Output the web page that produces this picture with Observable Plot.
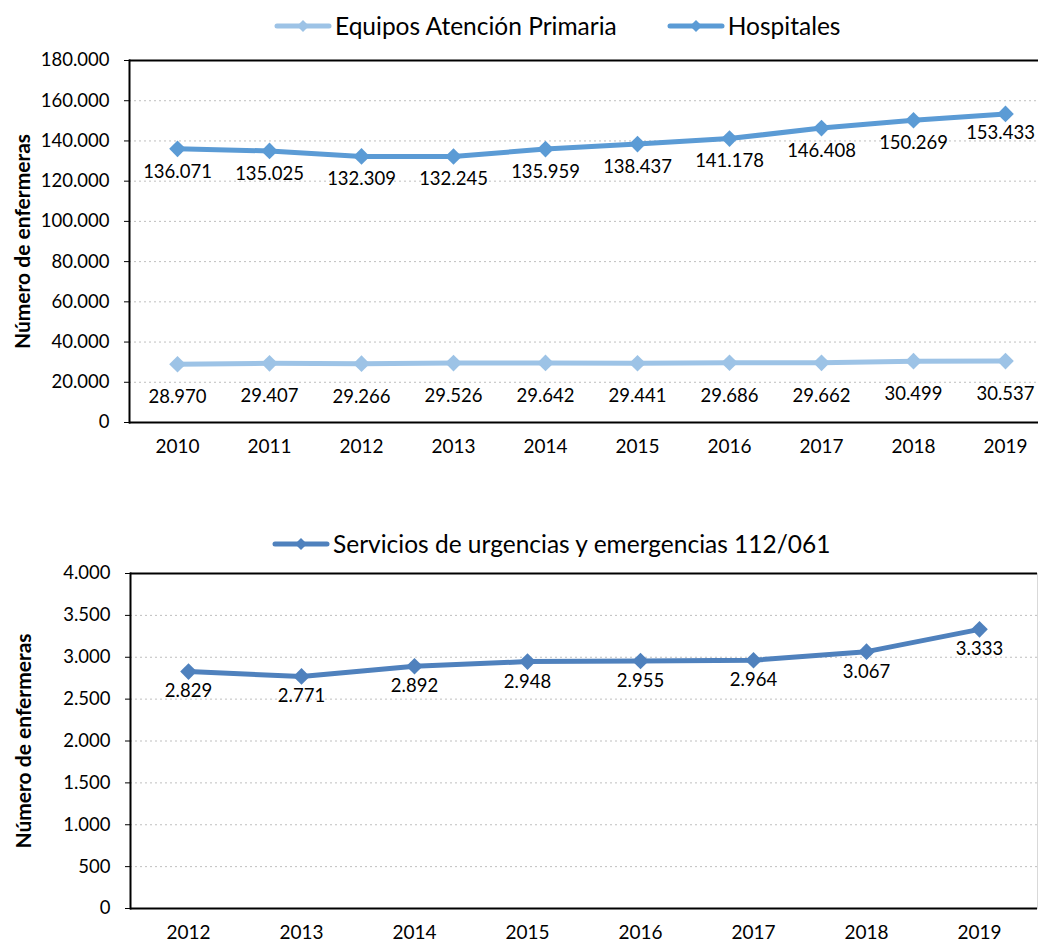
<!DOCTYPE html>
<html><head><meta charset="utf-8">
<script src="https://cdn.jsdelivr.net/npm/d3@7"></script>
<script src="https://cdn.jsdelivr.net/npm/@observablehq/plot@0.6"></script>
<style>
body{margin:0;background:#fff;font-family:Lato,sans-serif;}
#wrap{position:relative;width:1038px;height:943px;overflow:hidden;background:#fff;}
.legend{position:absolute;display:flex;align-items:center;font-size:24.5px;color:#000;white-space:nowrap;}
.legend .item{display:flex;align-items:center;}
.legend svg{display:block;margin-right:3px;}
#c1{position:absolute;left:0;top:45px;}
#c2{position:absolute;left:0;top:560px;}
</style></head>
<body><div id="wrap">
<div class="legend" id="leg1" style="left:274px;top:11px;"></div>
<div id="c1"></div>
<div class="legend" id="leg2" style="left:272px;top:529px;"></div>
<div id="c2"></div>
</div>
<script>
// ---- data ----
const years1 = ["2010","2011","2012","2013","2014","2015","2016","2017","2018","2019"];
const primaria = [28970, 29407, 29266, 29526, 29642, 29441, 29686, 29662, 30499, 30537];
const hospitales = [136071, 135025, 132309, 132245, 135959, 138437, 141178, 146408, 150269, 153433];
const years2 = ["2012","2013","2014","2015","2016","2017","2018","2019"];
const urgencias = [2829, 2771, 2892, 2948, 2955, 2964, 3067, 3333];
const series1 = ["Equipos Atención Primaria", "Hospitales"];
const series2 = ["Servicios de urgencias y emergencias 112/061"];
const yTicks1 = [0, 20000, 40000, 60000, 80000, 100000, 120000, 140000, 160000, 180000];
const yTicks2 = [0, 500, 1000, 1500, 2000, 2500, 3000, 3500, 4000];
const yTitle = "Número de enfermeras";

const colors1 = ["#9DC3E6", "#5B9BD5"];
const colors2 = ["#4F81BD"];

const fmt = d3.formatLocale({decimal:",", thousands:".", grouping:[3], currency:["","€"]}).format(",d");

function swatch(color){
  return `<svg width="58" height="14"><line x1="3" y1="7" x2="55" y2="7" stroke="${color}" stroke-width="5" stroke-linecap="round"/><path d="M29,1 L35,7 L29,13 L23,7 Z" fill="${color}"/></svg>`;
}
document.getElementById("leg1").innerHTML =
  `<div class="item">${swatch(colors1[0])}<span>${series1[0]}</span></div>` +
  `<div class="item" style="margin-left:50px">${swatch(colors1[1])}<span>${series1[1]}</span></div>`;
document.getElementById("leg2").innerHTML =
  `<div class="item">${swatch(colors2[0])}<span>${series2[0]}</span></div>`;

const rows1 = years1.flatMap((y, i) => [
  {year: y, value: primaria[i], serie: series1[0]},
  {year: y, value: hospitales[i], serie: series1[1]}
]);
const rows2 = years2.map((y, i) => ({year: y, value: urgencias[i], serie: series2[0]}));

const common = (ticks, max) => [
  Plot.gridY(ticks.filter(t => t > 0 && t < max), {stroke:"#bfbfbf", strokeOpacity:1, strokeDasharray:"2,3"}),
  Plot.axisY({ticks, tickFormat: fmt, tickSize:5, tickPadding:15, fontSize:18.5, label:null}),
  Plot.axisX({tickSize:0, tickPadding:17, fontSize:19, label:null}),
  Plot.ruleY([0, max], {stroke:"#000", strokeWidth:2}),
  Plot.frame({anchor:"left", stroke:"#000", strokeWidth:2}),
  Plot.text([yTitle], {frameAnchor:"left", dx:-106, rotate:-90, textAnchor:"middle", fontWeight:"bold", fontSize:21, fill:"#000"})
];

const hosp = rows1.filter(d => d.serie === series1[1]);
const prim = rows1.filter(d => d.serie === series1[0]);
const lastYear = years1[years1.length - 1];

const p1 = Plot.plot({
  width:1038, height:425, marginTop:15, marginBottom:48, marginLeft:129, marginRight:0,
  style:{fontFamily:"Lato, sans-serif", fontSize:"18px", color:"#000", background:"#fff"},
  x:{type:"point", domain:years1, range:[129, 1052]},
  y:{domain:[0, 180000]},
  color:{domain:series1, range:colors1},
  marks:[
    ...common(yTicks1, 180000),
    Plot.line(rows1, {x:"year", y:"value", z:"serie", stroke:"serie", strokeWidth:5}),
    Plot.dot(rows1, {x:"year", y:"value", fill:"serie", symbol:"diamond2", r:7.5, stroke:null}),
    Plot.text(hosp.filter(d => d.year !== lastYear), {x:"year", y:"value", text: d => fmt(d.value), dy:23, fontSize:18.5, fill:"#000"}),
    Plot.text(hosp.filter(d => d.year === lastYear), {x:"year", y:"value", text: d => fmt(d.value), dy:19, dx:-5, fontSize:18.5, fill:"#000"}),
    Plot.text(prim, {x:"year", y:"value", text: d => fmt(d.value), dy:33, fontSize:18.5, fill:"#000"})
  ]
});
document.getElementById("c1").appendChild(p1);

const p2 = Plot.plot({
  width:1038, height:383, marginTop:13, marginBottom:35, marginLeft:130, marginRight:1,
  style:{fontFamily:"Lato, sans-serif", fontSize:"18px", color:"#000", background:"#fff"},
  x:{type:"point", domain:years2, padding:0.5},
  y:{domain:[0, 4000]},
  color:{domain:series2, range:colors2},
  marks:[
    ...common(yTicks2, 4000),
    Plot.frame({anchor:"right", stroke:"#d9d9d9", strokeWidth:1}),
    Plot.line(rows2, {x:"year", y:"value", stroke:"serie", strokeWidth:5}),
    Plot.dot(rows2, {x:"year", y:"value", fill:"serie", symbol:"diamond2", r:7.5, stroke:null}),
    Plot.text(rows2, {x:"year", y:"value", text: d => fmt(d.value), dy:20, fontSize:18.5, fill:"#000"})
  ]
});
document.getElementById("c2").appendChild(p2);
</script>
</body></html>
